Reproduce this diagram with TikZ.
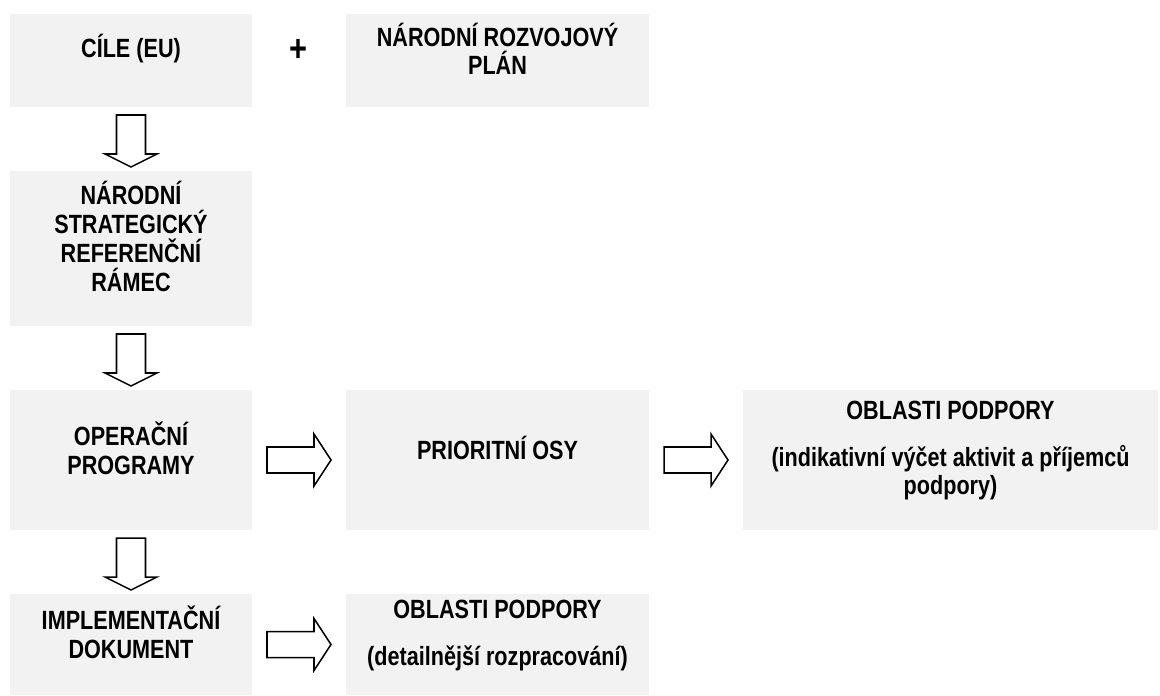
\documentclass[tikz,border=0pt]{standalone}
\usepackage{fontspec}
\setmainfont{Liberation Sans}[FakeStretch=0.82]
\usepackage{xcolor}
\usetikzlibrary{fit, calc}

\definecolor{boxgray}{RGB}{242,242,242}

\begin{document}
\begin{tikzpicture}[x=0.03cm, y=-0.03cm,
  box/.style={fill=boxgray, inner sep=0pt, align=center,
    font=\bfseries\fontsize{22.5}{24.7}\selectfont},
  fat/.style={draw=black, line width=1.3pt, fill=white, line join=miter},
  downarr/.pic={\path[fat] (-14.5,-24) -- (-14.5,15) -- (-26,15) -- (0,28)
    -- (26,15) -- (14.5,15) -- (14.5,-24) -- cycle;},
  rightarr/.pic={\path[fat] (-32,-13) -- (15,-13) -- (15,-26) -- (32,0)
    -- (15,26) -- (15,13) -- (-32,13) -- cycle;}]
\useasboundingbox (0,0) rectangle (1160,695);
% top row
\node[box, fit={(10,14) (252,107)}] (cile) {CÍLE (EU)};
\node[font=\bfseries\fontsize{32}{34}\selectfont, inner sep=0pt] (plus) at (298,51) {+};
\node[box, fit={(346,14) (649,107)}] (nrp) {NÁRODNÍ ROZVOJOVÝ\\PLÁN};
% left column
\node[box, fit={(10,171) (252,326)}] (nsrr) {NÁRODNÍ\\STRATEGICKÝ\\REFERENČNÍ\\RÁMEC};
\node[box, fit={(10,390) (252,530)}] (op) {OPERAČNÍ\\PROGRAMY};
\node[box, fit={(10,594) (252,695)}] (impl) {IMPLEMENTAČNÍ\\DOKUMENT};
% axes and support areas
\node[box, fit={(346,390) (649,530)}] (osy) {PRIORITNÍ OSY};
\node[box, fit={(743,390) (1158,530)}] (obl) {OBLASTI PODPORY\\[15pt]
  (indikativní výčet aktivit a příjemců\\podpory)};
\node[box, fit={(346,594) (649,695)}] (obldet) {OBLASTI PODPORY\\[15pt]
  (detailnější rozpracování)};
% block arrows
\pic at ($(cile.south)!0.5!(nsrr.north)$) {downarr};
\pic at ($(nsrr.south)!0.5!(op.north)$) {downarr};
\pic at ($(op.south)!0.5!(impl.north)$) {downarr};
\pic at ($(op.east)!0.5!(osy.west)$) {rightarr};
\pic at ($(osy.east)!0.5!(obl.west)$) {rightarr};
\pic at ($(impl.east)!0.5!(obldet.west)$) {rightarr};
\end{tikzpicture}
\end{document}
